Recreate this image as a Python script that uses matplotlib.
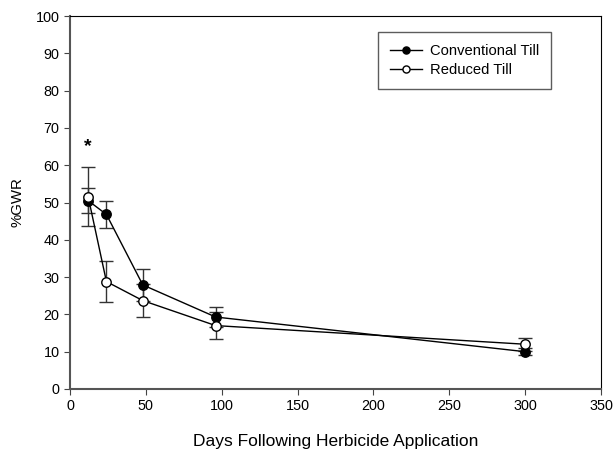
import numpy as np
import matplotlib
matplotlib.use("Agg")
import matplotlib.pyplot as plt

plt.rcParams['font.family'] = ['Liberation Sans', 'DejaVu Sans']

# data
days = [12, 24, 48, 96, 300]
conv = [50.5, 46.8, 27.9, 19.3, 10.0]
conv_err = [3.3, 3.6, 4.4, 2.8, 1.0]
red = [51.5, 28.8, 23.7, 17.0, 12.0]
red_err = [7.9, 5.4, 4.4, 3.6, 1.8]

fig = plt.figure(figsize=(6.15, 4.51), dpi=100)
ax = fig.add_axes([70 / 615, 1 - 389 / 451, 531 / 615, 373 / 451])

for y, err, fc, lab, z in [(conv, conv_err, 'black', 'Conventional Till', 3),
                           (red, red_err, 'white', 'Reduced Till', 4)]:
    ax.errorbar(days, y, yerr=err, fmt='none', ecolor='#333333', elinewidth=1,
                capsize=5, capthick=1, zorder=2)
    ax.plot(days, y, color='black', lw=1, marker='o', markersize=6.8,
            markerfacecolor=fc, markeredgecolor='black', label=lab, zorder=z)

ax.text(12, 65, '*', ha='center', va='center', fontsize=14, fontweight='bold')

ax.set_xlim(0, 350)
ax.set_ylim(0, 100)
ax.set_xticks(np.arange(0, 351, 50))
ax.set_yticks(np.arange(0, 101, 10))
ax.tick_params(direction='out', labelsize=10.4, length=4, color='#444444')
for s in ['left', 'bottom']:
    ax.spines[s].set_color('#555555')
    ax.spines[s].set_linewidth(1.5)
ax.set_xlabel('Days Following Herbicide Application', fontsize=12.5, labelpad=15)
ax.set_ylabel('%GWR', fontsize=10.8, labelpad=8)

leg = ax.legend(loc='upper left', bbox_to_anchor=(0.58, 0.957),
                fontsize=10.6, fancybox=False, edgecolor='#333333', handlelength=2.2,
                markerscale=0.75, borderpad=0.8, handletextpad=0.55,
                labelspacing=0.35, borderaxespad=0)
leg.get_frame().set_linewidth(1)

fig.savefig('out.png', dpi=100)
